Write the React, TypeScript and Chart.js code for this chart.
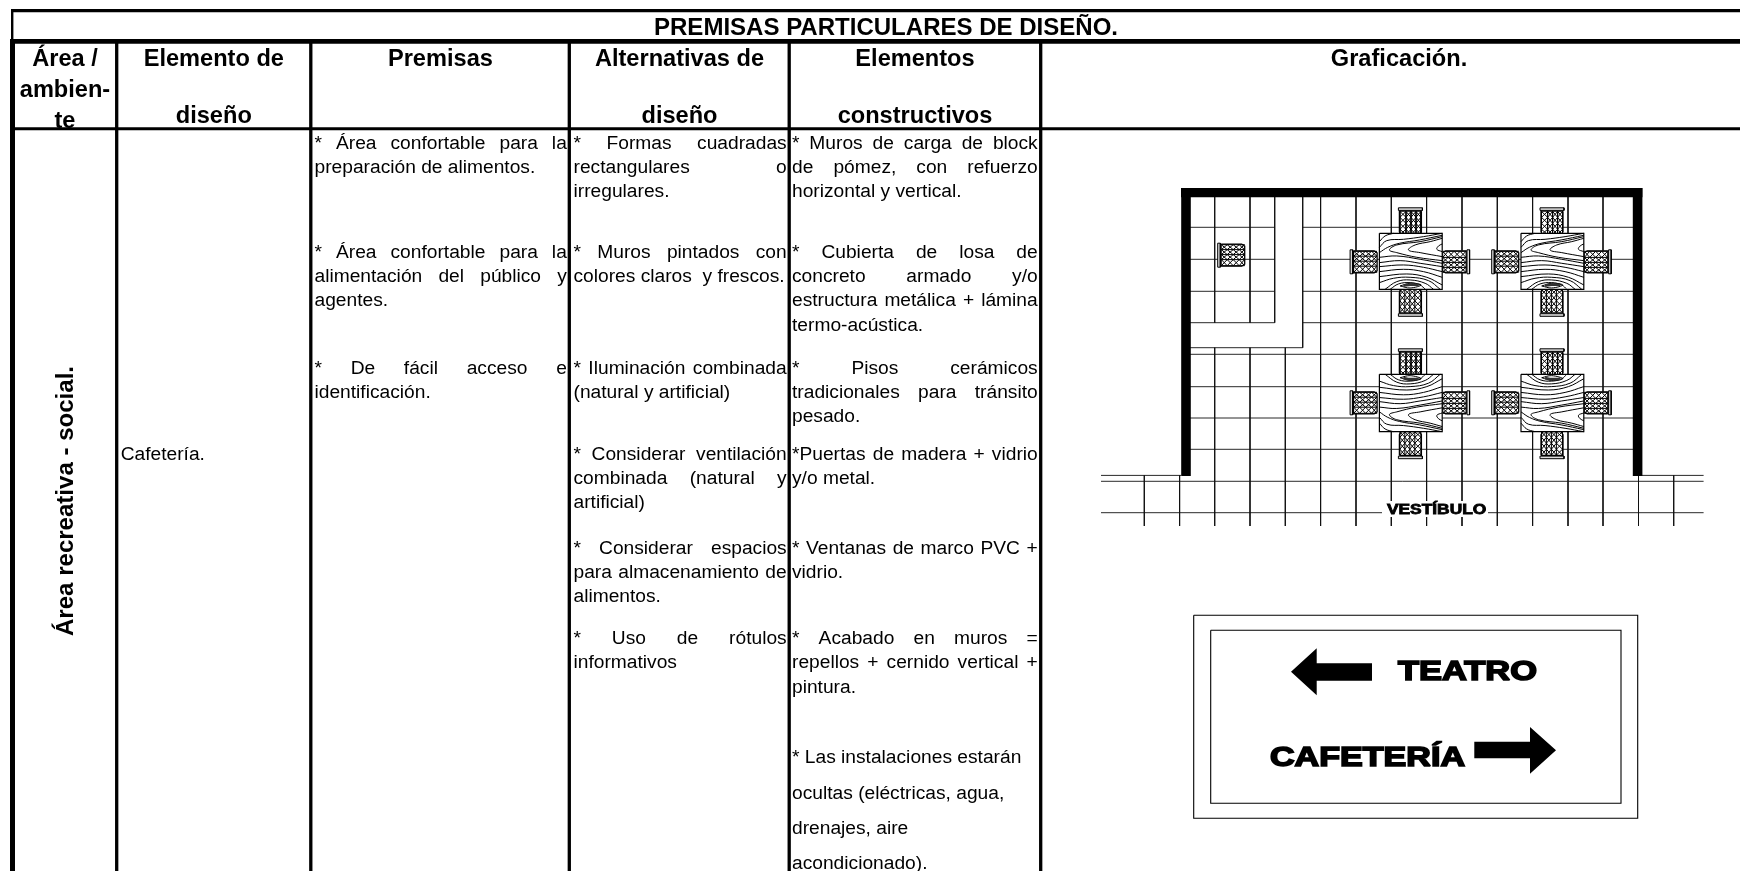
import React, { useEffect, useRef } from "react";
import { Chart, registerables } from "chart.js";

Chart.register(...registerables);

/* ---------- text content ---------- */
const titleText = "PREMISAS PARTICULARES DE DISEÑO.";
const headerLabels = ["Área /", "ambien-", "te", "Elemento de", "diseño", "Premisas", "Alternativas de", "diseño", "Elementos", "constructivos", "Graficación."];
const headerCentres = [65, 65, 65, 213.8, 213.8, 440.4, 679.5, 679.5, 915, 915, 1399];
const headerBaselines = [66, 97, 128, 66, 122.7, 66, 66, 122.7, 66, 122.7, 66];
const sideLabel = "Área recreativa - social.";
const elementLabel = "Cafetería.";

const premisasLines = ["* Área confortable para la", "preparación de alimentos.", "* Área confortable para la", "alimentación del público y", "agentes.", "* De fácil acceso e", "identificación."];
const premisasBase = [149, 173, 258, 282, 306, 374, 398];
const premisasJust = [1, 0, 1, 1, 0, 1, 0];

const alternativasLines = ["* Formas cuadradas", "rectangulares o", "irregulares.", "* Muros pintados con", "colores claros  y frescos.", "* Iluminación combinada", "(natural y artificial)", "* Considerar ventilación", "combinada (natural y", "artificial)", "* Considerar espacios", "para almacenamiento de", "alimentos.", "* Uso de rótulos", "informativos"];
const alternativasBase = [149, 173, 197, 258, 282, 374, 398, 460, 484, 508, 554, 578, 602, 644, 668];
const alternativasJust = [1, 1, 0, 1, 0, 1, 0, 1, 1, 0, 1, 1, 0, 1, 0];

const elementosLines = ["* Muros de carga de block", "de pómez, con refuerzo", "horizontal y vertical.", "* Cubierta de losa de", "concreto armado y/o", "estructura metálica + lámina", "termo-acústica.", "* Pisos cerámicos", "tradicionales para tránsito", "pesado.", "*Puertas de madera + vidrio", "y/o metal.", "* Ventanas de marco PVC +", "vidrio.", "* Acabado en muros =", "repellos + cernido vertical +", "pintura.", "* Las instalaciones estarán", "ocultas (eléctricas, agua,", "drenajes, aire", "acondicionado)."];
const elementosBase = [149, 173, 197, 258, 282, 306, 331, 374, 398, 422, 460, 484, 554, 578, 644, 668, 693, 763, 799, 834, 869];
const elementosJust = [1, 1, 0, 1, 1, 1, 0, 1, 1, 0, 1, 0, 1, 0, 1, 1, 0, 0, 0, 0, 0];

/* ---------- table rules ---------- */
const tableVerticals = [116.7, 310.8, 569.3, 789.2, 1040.7];
const tableHorizontals = [10.7, 41.4, 128.8];
const tableHorizontalWeights = [3.3, 4.7, 3];

/* ---------- floor plan ---------- */
const gridColumnsLow = [1214.7, 1250, 1285.3];
const gridColumnsHigh = [1320.6, 1356, 1391.3, 1426.6, 1462, 1497.3, 1532.6, 1568, 1603];
const gridRowsTop = [227.3, 259.3, 291.3];
const gridRowsLow = [354.3, 386.7, 418, 449.3];
const corridorRows = [475.4, 481.3, 512.7];
const corridorColumns = [1144.3, 1179.6, 1638.5, 1673.7];
const tableXs = [1379.4, 1521];
const tableYs = [233.3, 374.3];
const tableHeights = [56, 57.4];

const grainCurves = [
  [[0, 25], [17, 8], [42, 0]],
  [[0, 42], [22, 22], [72, 18], [132, 10], [188, 0]],
  [[0, 58], [25, 42], [60, 30], [120, 20], [188, 6]],
  [[188, 10], [122, 25], [52, 35], [30, 50], [52, 58], [112, 72], [188, 82]],
  [[188, 15], [152, 25], [107, 35], [87, 50], [122, 58], [188, 70]],
  [[188, 32], [177, 38], [172, 48], [188, 55]],
  [[0, 72], [52, 68], [122, 78], [188, 90]],
  [[0, 88], [62, 82], [122, 90], [188, 100]],
  [[0, 100], [72, 95], [132, 102], [188, 115]],
  [[0, 115], [72, 108], [132, 115], [188, 132]],
  [[0, 130], [82, 122], [142, 132], [188, 155]],
  [[0, 148], [42, 135], [92, 132], [147, 142], [182, 168]],
  [[17, 168], [52, 145], [92, 140], [137, 150], [162, 168]],
  [[32, 168], [57, 152], [92, 148], [122, 155], [137, 168]],
  [[62, 158], [92, 150], [125, 155], [92, 164], [62, 158]],
];
const grainKnot = [[72, 157], [92, 154], [118, 155]];

const chairBack = [[0, 0], [2.6, 0], [2.6, 24], [0, 24], [0, 0]];
const chairSeat = [[3.4, 1], [24, 1], [27, 3], [27, 21], [24, 23], [3.4, 23], [3.4, 1]];
const chairMeshX = [3.6, 9.5, 15.5, 21.5, 26.8];
const chairMeshY = [1.5, 6.4, 11.4, 16.4, 22.5];

/* ---------- sign ---------- */
const signOuter = [[1193.7, 615.3], [1637.7, 615.3], [1637.7, 818.3], [1193.7, 818.3], [1193.7, 615.3]];
const signInner = [[1210.7, 630.3], [1621, 630.3], [1621, 803.3], [1210.7, 803.3], [1210.7, 630.3]];
const arrowLeft = [[1291, 671.7], [1316.7, 648.3], [1316.7, 663.3], [1372, 663.3], [1372, 680.7], [1316.7, 680.7], [1316.7, 695.3], [1291, 671.7]];
const arrowRight = [[1556, 750.3], [1530, 727], [1530, 741.7], [1474.3, 741.7], [1474.3, 758.3], [1530, 758.3], [1530, 773.7], [1556, 750.3]];
const vestibuloMask = [[1382, 501], [1488, 501], [1488, 517], [1382, 517], [1382, 501]];

type P = { x: number; y: number };
const gap: P = { x: NaN, y: NaN };
const pts = (a: number[][]): P[] => a.map(([x, y]) => ({ x, y }));
const seg = (x0: number, y0: number, x1: number, y1: number): P[] => [{ x: x0, y: y0 }, { x: x1, y: y1 }, gap];

const stroke = (data: P[], w = 1, color = "#000", extra: any = {}) => ({
  data, showLine: true, borderColor: color, borderWidth: w, pointRadius: 0, fill: false, tension: 0, borderCapStyle: "butt", ...extra,
});
const solid = (data: P[], fillColor: string, w = 0, color = "#000") =>
  stroke(data, w, color, { fill: "shape", backgroundColor: fillColor });

function buildDatasets() {
  const out: any[] = [];

  // table rules
  tableHorizontals.forEach((y, i) => out.push(stroke(seg(i === 0 ? 11 : 10, y, 1740, y), tableHorizontalWeights[i])));
  out.push(stroke(seg(12.2, 9, 12.2, 42), 2.4));
  out.push(stroke(seg(12.5, 39, 12.5, 871), 5));
  tableVerticals.forEach((x) => out.push(stroke(seg(x, 42, x, 871), 3.3)));

  // floor grid
  const grid: P[] = [];
  gridRowsTop.forEach((y) => {
    grid.push(...seg(1190, y, 1274.7, y), ...seg(1302.7, y, 1633, y));
  });
  gridRowsLow.forEach((y) => grid.push(...seg(1190, y, 1633, y)));
  grid.push(...seg(1190, 322.7, 1274.7, 322.7), ...seg(1302.7, 322.7, 1633, 322.7));
  grid.push(...seg(1190, 347.7, 1302.7, 347.7));
  grid.push(...seg(1274.7, 197, 1274.7, 322.7), ...seg(1302.7, 197, 1302.7, 347.7));
  gridColumnsLow.forEach((x) => {
    if (x < 1274) grid.push(...seg(x, 197, x, 322.7));
    grid.push(...seg(x, 347.7, x, 526));
  });
  gridColumnsHigh.forEach((x) => grid.push(...seg(x, 197, x, 526)));
  corridorRows.forEach((y) => {
    if (y < 476) grid.push(...seg(1101, y, 1181, y), ...seg(1642, y, 1703.6, y));
    else grid.push(...seg(1101, y, 1703.6, y));
  });
  corridorColumns.forEach((x) => grid.push(...seg(x, 475.4, x, 526)));
  out.push(stroke(grid, 0.9, "#111"));

  // walls
  out.push(stroke(seg(1181, 192.6, 1642.4, 192.6), 9.4));
  out.push(stroke(seg(1186, 188, 1186, 476), 9.6));
  out.push(stroke(seg(1637.6, 188, 1637.6, 476), 9.6));

  // furniture
  const chair = (ox: number, oy: number, rot: number) => {
    const t = ([lx, ly]: number[]): P => {
      if (rot === 0) return { x: ox + lx, y: oy + ly };
      if (rot === 180) return { x: ox + 27 - lx, y: oy + 24 - ly };
      if (rot === 90) return { x: ox + 24 - ly, y: oy + lx };
      return { x: ox + ly, y: oy + 27 - lx };
    };
    out.push(solid(chairSeat.map(t), "#fff", 1.3));
    out.push(solid(chairBack.map(t), "#ddd", 1));
    const mesh: P[] = [];
    chairMeshY.forEach((ly) => mesh.push(t([chairMeshX[0], ly]), t([chairMeshX[4], ly]), gap));
    for (let c = 0; c < chairMeshX.length - 1; c++) {
      const down = chairMeshY.map((ly, r) => t([chairMeshX[c + ((r + c) % 2)], ly]));
      const up = chairMeshY.map((ly, r) => t([chairMeshX[c + ((r + c + 1) % 2)], ly]));
      mesh.push(...down, gap, ...up, gap);
    }
    out.push(stroke(mesh, 1));
  };
  chair(1217.7, 243.2, 0);
  tableYs.forEach((ty, r) => {
    const th = tableHeights[r];
    tableXs.forEach((tx) => {
      chair(tx - 29.3, ty + 16.5, 0);
      chair(tx + 63.2, ty + 16.5, 180);
      chair(tx + 19, ty - 25.5, 90);
      chair(tx + 19, ty + th, 270);
      const outline = pts([[tx, ty], [tx + 62.8, ty], [tx + 62.8, ty + th], [tx, ty + th], [tx, ty]]);
      out.push(solid(outline, "#fff", 1.2));
      const map = ([gx, gy]: number[]): P => ({
        x: tx + (gx / 188) * 62.8,
        y: r === 0 ? ty + (gy / 168) * th : ty + th - (gy / 168) * th,
      });
      const grain: P[] = [];
      grainCurves.forEach((c) => grain.push(...c.map(map), gap));
      out.push(stroke(grain, 1, "#000", { tension: 0.4 }));
      out.push(stroke(grainKnot.map(map), 2.6, "#333", { tension: 0.4 }));
    });
  });

  // vestibule label mask
  out.push(solid(pts(vestibuloMask), "#fff"));

  // sign
  out.push(stroke(pts(signOuter), 1.1));
  out.push(stroke(pts(signInner), 1.1));
  out.push(solid(pts(arrowLeft), "#000"));
  out.push(solid(pts(arrowRight), "#000"));

  // later entries sit on top
  out.forEach((d, i) => (d.order = -i));
  return out;
}

const sans = '"Liberation Sans", Arial, sans-serif';
const BODY = `19.2px ${sans}`;
const BOLD = `bold 23.6px ${sans}`;

const textPlugin = {
  id: "sheetText",
  afterDatasetsDraw(chart: any) {
    const ctx: CanvasRenderingContext2D = chart.ctx;
    const px = (v: number) => chart.scales.x.getPixelForValue(v);
    const py = (v: number) => chart.scales.y.getPixelForValue(v);
    ctx.save();
    ctx.fillStyle = "#000";
    ctx.strokeStyle = "#000";
    ctx.textBaseline = "alphabetic";
    ctx.textAlign = "left";

    const fit = (t: string, x0: number, x1: number, base: number, font: string, heavy = 0) => {
      ctx.save();
      ctx.font = font;
      const w = ctx.measureText(t).width;
      ctx.translate(px(x0), py(base));
      ctx.scale((px(x1) - px(x0)) / w, 1);
      if (heavy) {
        ctx.lineWidth = heavy;
        ctx.lineJoin = "miter";
        ctx.miterLimit = 2;
        ctx.strokeText(t, 0, 0);
      }
      ctx.fillText(t, 0, 0);
      ctx.restore();
    };

    const column = (lines: string[], base: number[], just: number[], left: number, right: number) => {
      ctx.font = BODY;
      lines.forEach((line, i) => {
        if (!just[i]) {
          ctx.fillText(line, px(left), py(base[i]));
          return;
        }
        const words = line.split(" ");
        const total = words.reduce((s, w) => s + ctx.measureText(w).width, 0);
        const space = (right - left - total) / (words.length - 1);
        let x = left;
        words.forEach((w) => {
          ctx.fillText(w, px(x), py(base[i]));
          x += ctx.measureText(w).width + space;
        });
      });
    };

    fit(titleText, 654, 1118, 35, BOLD);
    ctx.font = BOLD;
    ctx.textAlign = "center";
    headerLabels.forEach((h, i) => ctx.fillText(h, px(headerCentres[i]), py(headerBaselines[i])));
    ctx.textAlign = "left";

    column(premisasLines, premisasBase, premisasJust, 314.5, 566.8);
    column(alternativasLines, alternativasBase, alternativasJust, 573.5, 786.7);
    column(elementosLines, elementosBase, elementosJust, 792, 1037.7);

    ctx.font = BODY;
    ctx.fillText(elementLabel, px(120.7), py(460));

    ctx.save();
    ctx.font = BOLD;
    ctx.translate(px(73), py(636));
    ctx.rotate(-Math.PI / 2);
    ctx.scale(270 / ctx.measureText(sideLabel).width, 1);
    ctx.fillText(sideLabel, 0, 0);
    ctx.restore();

    fit("VESTÍBULO", 1386.9, 1486.3, 513.7, `bold 14px ${sans}`, 0.8);
    fit("TEATRO", 1398, 1537, 679.5, `bold 27px ${sans}`, 1.6);
    fit("CAFETERÍA", 1270, 1465, 765.5, `bold 27px ${sans}`, 1.6);
    ctx.restore();
  },
};

export default function App() {
  const ref = useRef<HTMLCanvasElement>(null);
  useEffect(() => {
    const chart = new Chart(ref.current as HTMLCanvasElement, {
      type: "scatter",
      data: { datasets: buildDatasets() },
      options: {
        animation: false,
        responsive: false,
        layout: { padding: 0 },
        events: [],
        plugins: { legend: { display: false }, tooltip: { enabled: false }, title: { display: false } },
        scales: {
          x: { type: "linear", min: 0, max: 1740, display: false },
          y: { type: "linear", min: 0, max: 871, reverse: true, display: false },
        },
      },
      plugins: [textPlugin],
    } as any);
    return () => chart.destroy();
  }, []);
  return (
    <div style={{ position: "fixed", left: 0, top: 0, width: 1740, height: 871, background: "#fff" }}>
      <canvas ref={ref} width={1740} height={871} style={{ display: "block" }} />
    </div>
  );
}
